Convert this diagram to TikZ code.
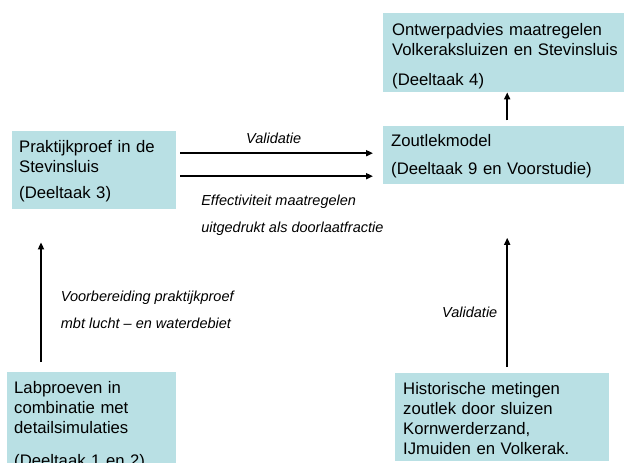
\documentclass[tikz,border=0pt]{standalone}
\usepackage{fontspec}
\setmainfont{Liberation Sans}
\usetikzlibrary{arrows.meta, positioning}
\definecolor{boxteal}{RGB}{185,224,228}

\begin{document}
\begin{tikzpicture}[
  x=1pt, y=-1pt,
  every node/.style={inner sep=0pt},
  taak/.style={rectangle, fill=boxteal, anchor=north west, align=left, inner xsep=#1, inner ysep=0pt, font=\fontsize{16.7}{20}\selectfont},
  taak/.default=8pt,
  lbl/.style={font=\fontsize{14.5}{27}\selectfont\itshape, align=left},
  arrow/.style={-{Triangle[length=7pt, width=6pt]}, line width=1.8pt}
]
\useasboundingbox (0,0) rectangle (624,463);

% Right column
\node[taak=9pt, text width=230pt, text height=22pt, text depth=57pt] (advies) at (383,13) {Ontwerpadvies maatregelen\\Volkeraksluizen en Stevinsluis\\[10pt](Deeltaak 4)};
\node[taak=8pt, below=33pt of advies, text width=232pt, text height=21pt, text depth=37pt] (zout) {Zoutlekmodel\\[8pt](Deeltaak 9 en Voorstudie)};
\node[taak=8pt, text width=198pt, text height=21pt, text depth=67pt] (hist) at (395,373) {Historische metingen\\zoutlek door sluizen\\Kornwerderzand,\\IJmuiden en Volkerak.};

% Left column
\node[taak=7pt, text width=150pt, text height=21pt, text depth=57pt] (prak) at (12,131) {Praktijkproef in de\\Stevinsluis\\[6pt](Deeltaak 3)};
\node[taak=7pt, text width=155pt, text height=21pt, text depth=77pt] (lab) at (7,372) {Labproeven in\\combinatie met\\detailsimulaties\\[13pt](Deeltaak 1 en 2)};

% Arrows
\coordinate (v1) at ([yshift=17pt]prak.east);
\coordinate (v2) at ([yshift=-6pt]prak.east);
\coordinate (h1) at ([xshift=5pt]hist.north);
\draw[arrow, shorten <=5pt] (zout.north -| h1) -- (advies.south -| h1);
\draw[arrow, shorten <=4pt, shorten >=10pt] (v1) -- node[lbl, midway, anchor=base, xshift=-6pt, yshift=10pt] (valtop) {Validatie} (v1 -| zout.west);
\draw[arrow, shorten <=4pt, shorten >=10pt] (v2) -- node[lbl, at start, anchor=north west, xshift=24pt, yshift=-17.5pt] (effect) {Effectiviteit maatregelen\\uitgedrukt als doorlaatfractie} (v2 -| zout.west);
\draw[arrow, shorten <=10pt, shorten >=33pt] ([xshift=34pt]lab.north west) -- node[lbl, midway, anchor=west, xshift=19pt, yshift=-19pt] (voorb) {Voorbereiding praktijkproef\\mbt lucht -- en waterdebiet} ([xshift=29pt]prak.south west);
\draw[arrow, shorten <=6pt, shorten >=54pt] (h1) -- node[lbl, midway, anchor=base east, xshift=-9pt, yshift=-39pt] (valright) {Validatie} (h1 |- zout.south);

\end{tikzpicture}
\end{document}
